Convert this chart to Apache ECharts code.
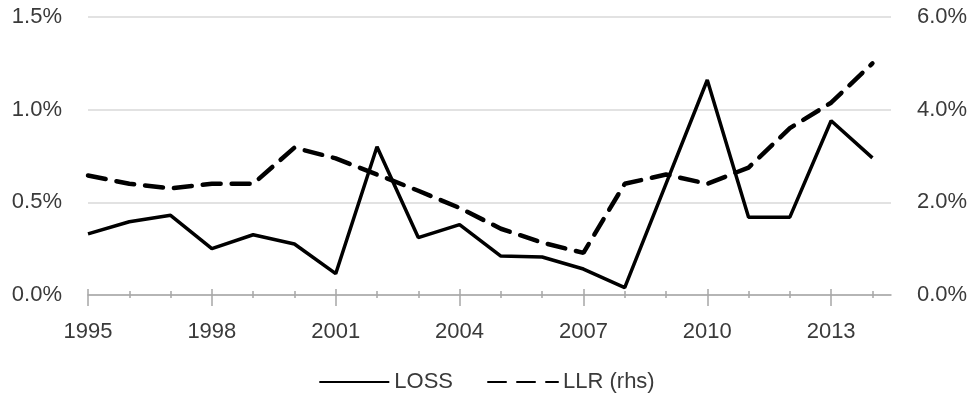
<!DOCTYPE html>
<html><head><meta charset="utf-8">
<script src="https://cdn.jsdelivr.net/npm/echarts@6/dist/echarts.min.js"></script>
<style>html,body{margin:0;padding:0;background:#fff}#c{width:973px;height:405px}</style>
</head><body><div id="c"></div>
<script>
const years = [1995,1996,1997,1998,1999,2000,2001,2002,2003,2004,2005,2006,2007,2008,2009,2010,2011,2012,2013,2014];
const lossValues = [0.33,0.395,0.43,0.25,0.325,0.275,0.115,0.80,0.31,0.38,0.21,0.205,0.14,0.04,0.60,1.16,0.42,0.42,0.94,0.74];
const llrValues = [2.58,2.40,2.30,2.40,2.40,3.18,2.95,2.60,2.25,1.88,1.43,1.13,0.91,2.40,2.60,2.40,2.75,3.60,4.15,5.00];
const xLabelYears = [1995,1998,2001,2004,2007,2010,2013];
const leftTicks = [0,0.5,1.0,1.5];
const rightTicks = [0,2,4,6];

const font = 'Liberation Sans';
const txt = '#3a3a3a';
const axisGray = '#a6a6a6';
const xMax = 2014.45;

function xAxisBase(extra){
  return Object.assign({
    type:'value', min:1995, max:xMax, gridIndex:0, position:'bottom',
    splitLine:{show:false}, axisLine:{show:false}, axisLabel:{show:false}, axisTick:{show:false}
  }, extra);
}
const chart = echarts.init(document.getElementById('c'));
chart.setOption({
  animation:false,
  grid:{left:88, right:82, top:17, bottom:110, containLabel:false},
  legend:{
    bottom:7, left:'center', itemWidth:70, itemHeight:14, itemGap:34,
    itemStyle:{opacity:0},
    textStyle:{fontFamily:font, fontSize:22, color:txt},
    data:['LOSS','LLR (rhs)']
  },
  xAxis:[
    xAxisBase({
      axisLine:{show:true, lineStyle:{color:axisGray, width:1.5}},
      axisTick:{show:true, customValues:years, length:3, lineStyle:{color:axisGray, width:1.5}},
      axisLabel:{show:true, customValues:xLabelYears, margin:26, fontFamily:font, fontSize:22, color:txt, formatter:v=>String(v)}
    }),
    xAxisBase({axisTick:{show:true, inside:true, customValues:years, length:4, lineStyle:{color:axisGray, width:1.5}}}),
    xAxisBase({axisTick:{show:true, customValues:xLabelYears, length:11, lineStyle:{color:axisGray, width:1.5}}}),
    xAxisBase({axisTick:{show:true, inside:true, customValues:xLabelYears, length:6, lineStyle:{color:axisGray, width:1.5}}})
  ],
  yAxis:[
    {type:'value', min:0, max:1.5, interval:0.5, position:'left',
     axisLine:{show:false}, axisTick:{show:false},
     splitLine:{show:true, lineStyle:{color:'#d9d9d9', width:1.5}},
     axisLabel:{margin:26, fontFamily:font, fontSize:22, color:txt, customValues:leftTicks, formatter:v=>v.toFixed(1)+'%'}},
    {type:'value', min:0, max:6, interval:2, position:'right',
     axisLine:{show:false}, axisTick:{show:false}, splitLine:{show:false},
     axisLabel:{margin:26, fontFamily:font, fontSize:22, color:txt, customValues:rightTicks, formatter:v=>v.toFixed(1)+'%'}}
  ],
  series:[
    {name:'LOSS', type:'line', xAxisIndex:0, yAxisIndex:0, symbol:'none', color:'#000',
     lineStyle:{color:'#000', width:3.5},
     data:years.map((y,i)=>[y,lossValues[i]])},
    {name:'LLR (rhs)', type:'line', xAxisIndex:0, yAxisIndex:1, symbol:'none', color:'#000',
     lineStyle:{color:'#000', width:4.5, type:[18,11], cap:'round'},
     data:years.map((y,i)=>[y,llrValues[i]])}
  ]
});
</script></body></html>
